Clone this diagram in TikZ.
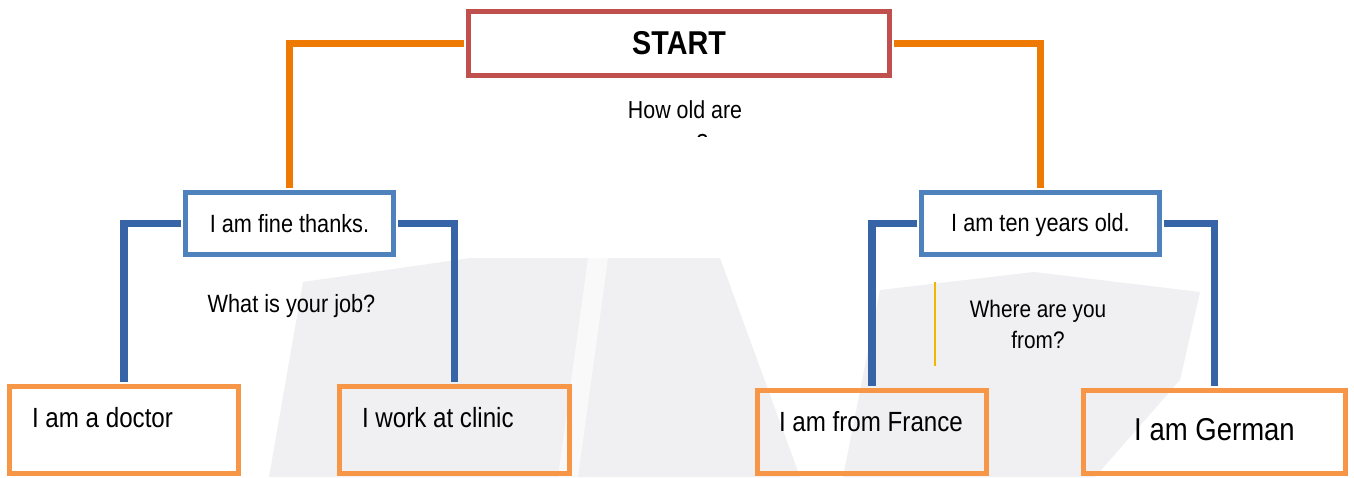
\documentclass[tikz,border=0pt]{standalone}
\usepackage{fontspec}
\setmainfont{Liberation Sans}[FakeStretch=0.87]

\definecolor{startred}{RGB}{192,80,77}
\definecolor{linkorange}{RGB}{238,122,4}
\definecolor{boxblue}{RGB}{79,129,189}
\definecolor{linkblue}{RGB}{54,100,166}
\definecolor{boxorange}{RGB}{247,150,70}
\definecolor{markyellow}{RGB}{242,182,0}
\definecolor{wmgray}{RGB}{240,240,243}

\begin{document}
\begin{tikzpicture}[x=0.02cm,y=-0.02cm,
    startbox/.style={draw=startred,line width=0.1cm,minimum width=8.42cm,minimum height=1.28cm,inner sep=0pt,font=\fontsize{18.8}{22}\selectfont\bfseries},
    replybox/.style={draw=boxblue,line width=0.1cm,minimum height=1.24cm,inner sep=0pt,font=\fontsize{14.2}{17}\selectfont},
    answerbox/.style={draw=boxorange,line width=0.1cm,inner ysep=0pt,align=flush left,font=\fontsize{15.8}{19}\selectfont},
    question/.style={inner sep=0pt,align=flush center},
    orangelink/.style={draw=linkorange,line width=0.14cm,shorten <=0.035cm,shorten >=0.035cm},
    bluelink/.style={draw=linkblue,line width=0.15cm,shorten <=0.035cm,shorten >=0.035cm}]
    % frame
    \path[use as bounding box,fill=white] (0,0) rectangle (1354,477);
    \clip (0,0) rectangle (1354,477);
    % faint watermark
    \fill[wmgray] (269,477) -- (303,282) -- (470,258) -- (720,258) -- (800,477) -- cycle;
    \fill[white!60!wmgray] (588,258) -- (608,258) -- (578,477) -- (558,477) -- cycle;
    \fill[wmgray] (843,477) -- (880,290) -- (1034,272) -- (1200,292) -- (1180,380) -- (1095,477) -- cycle;
    % START
    \node[startbox] (start) at (679,43.5) {START};
    % first answers
    \node[replybox,minimum width=4.16cm] (fine) at (289.5,223.5) {I am fine thanks.};
    \node[replybox,minimum width=4.76cm,text depth=0.06cm] (ten) at (1040.5,223.5) {I am ten years old.};
    % last answers
    \node[answerbox,inner xsep=0.45cm,text width=3.68cm,text height=0.81cm,text depth=0.93cm] (doctor) at (124,430) {I am a doctor};
    \node[answerbox,inner xsep=0.45cm,text width=3.7cm,text height=0.81cm,text depth=0.93cm] (clinic) at (454.5,430) {I work at clinic};
    \node[answerbox,inner xsep=0.43cm,text width=3.72cm,text height=0.81cm,text depth=0.85cm] (france) at (872,432) {I am from France};
    \node[answerbox,inner xsep=0.2cm,text width=4.84cm,text height=0.99cm,text depth=0.67cm,align=flush center,font=\fontsize{18}{21}\selectfont] (german) at (1214.5,432) {I am German};
    % questions
    \begin{scope}
      \clip (560,80) rectangle (820,136);
      \node[question,anchor=north,font=\fontsize{14}{18.8}\selectfont] (howold) at (685,100.5) {How old are\\you?};
    \end{scope}
    \node[question,anchor=base,font=\fontsize{14.2}{17}\selectfont] (job) at (291.5,312) {What is your job?};
    \node[question,anchor=north,font=\fontsize{13.6}{17.6}\selectfont] (from) at (1038,300) {Where are you\\from?};
    % links
    \draw[orangelink] (start.west) -| (fine.north);
    \draw[orangelink] (start.east) -| (ten.north);
    \draw[bluelink] (fine.west) -| (doctor.north);
    \draw[bluelink] (fine.east) -| (clinic.north);
    \draw[bluelink] (ten.west) -| (france.north);
    \draw[bluelink] (ten.east) -| (german.north);
    % yellow mark
    \coordinate (marktop) at (935,282);
    \coordinate (markbot) at (935,366);
    \draw[markyellow,line width=0.6pt] (marktop) -- (markbot);
\end{tikzpicture}
\end{document}
